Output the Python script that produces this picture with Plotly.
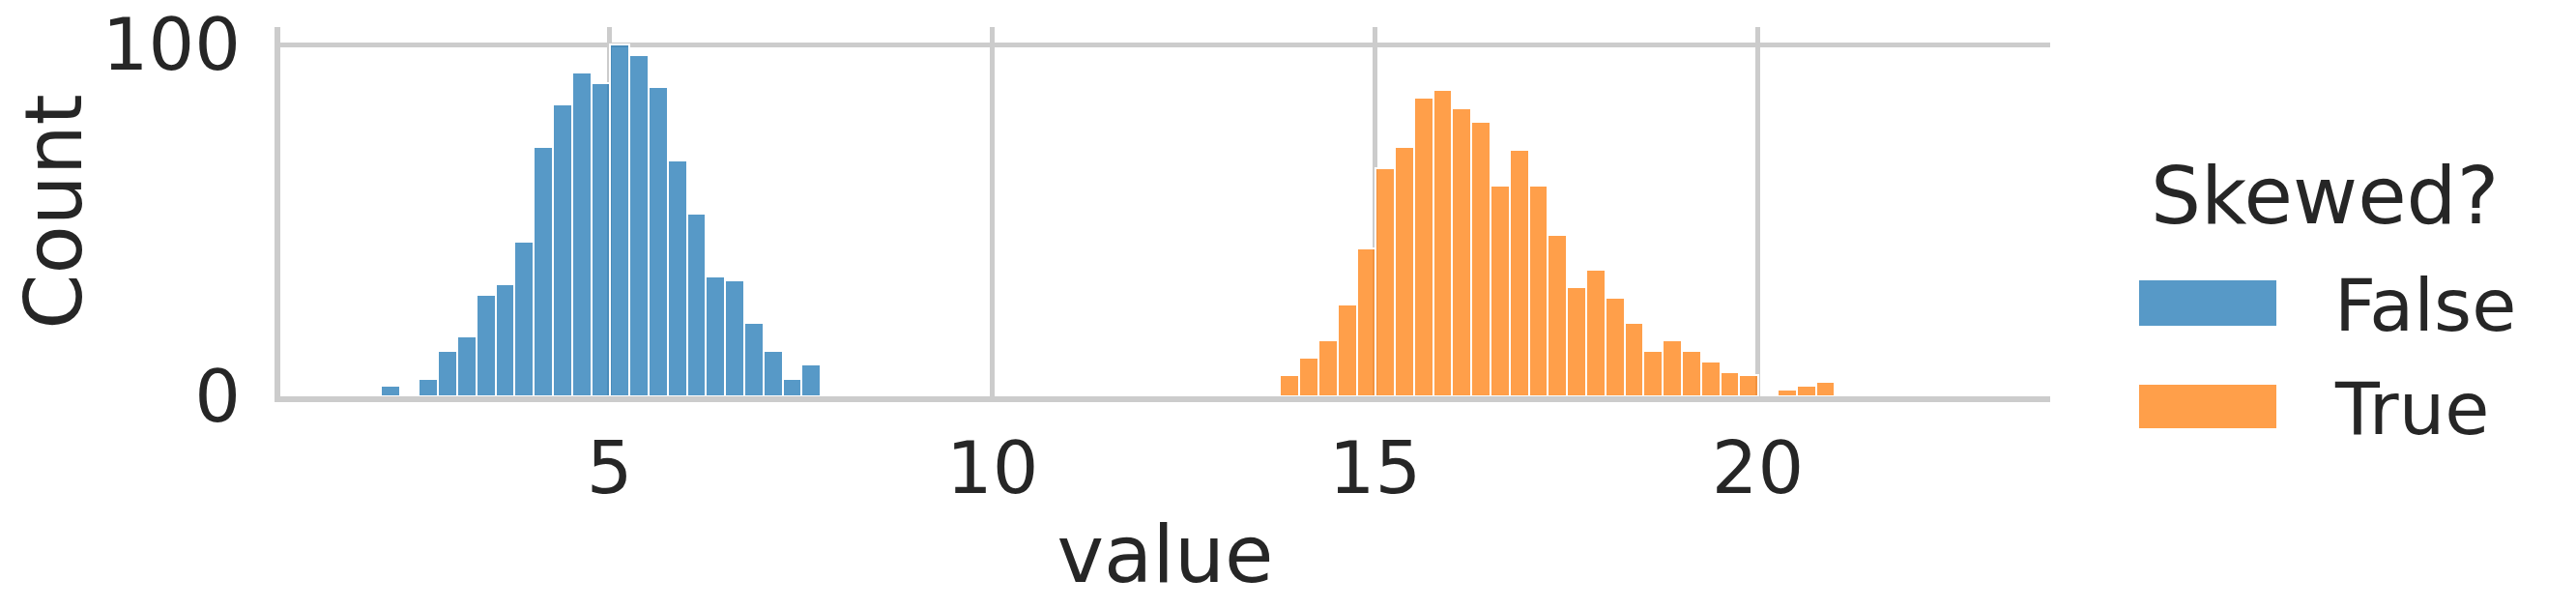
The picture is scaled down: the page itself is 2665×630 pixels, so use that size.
import plotly.graph_objects as go

# ---- data ----
BIN_WIDTH = 0.25
false_first_edge = 1.759      # left edge of first "False" bin
false_counts = [0, 3, 0, 5, 13, 17, 29, 32, 44, 71, 83, 92, 89, 100, 97, 88,
                67, 52, 34, 33, 21, 13, 5, 9]
true_first_edge = 13.759      # left edge of first "True" bin
true_counts = [6, 11, 16, 26, 42, 65, 71, 85, 87, 82, 78, 60, 70, 60, 46, 31,
               36, 28, 21, 13, 16, 13, 10, 7, 6, 0, 2, 3, 4]
hue_levels = ["False", "True"]
x_ticks = [5, 10, 15, 20]
y_ticks = [0, 100]
x_range = [0.697, 23.82]
y_range = [0, 105]

fill_colors = ["rgba(31,119,180,0.75)", "rgba(255,127,14,0.75)"]
TEXT = "#262626"
GRID = "#cccccc"
FONT = "DejaVu Sans"

def centers(first_edge, counts):
    xs, ys = [], []
    for i, c in enumerate(counts):
        if c > 0:
            xs.append(first_edge + (i + 0.5) * BIN_WIDTH)
            ys.append(c)
    return xs, ys

fig = go.Figure()
for name, edge, counts, col in zip(hue_levels, [false_first_edge, true_first_edge],
                                   [false_counts, true_counts], fill_colors):
    xs, ys = centers(edge, counts)
    fig.add_trace(go.Bar(x=xs, y=ys, width=BIN_WIDTH, name=name,
                         marker=dict(color=col, line=dict(color="white", width=2)),
                         showlegend=False))

# the page body has an 8px default margin: lay out in window pixels minus 8
OFF = 8
W, H = 2665 - 2 * OFF, 630 - 2 * OFF
PL, PT, PW, PH = 290, 28, 1831, 382          # plot area in window pixels
L, T = PL - OFF, PT - OFF
R, B = W - L - PW, H - T - PH

def px2paper_x(px):
    return (px - PL) / PW

def px2paper_y(py):
    return (PT + PH - py) / PH

# custom legend (large patches as in reference)
shapes = []
annotations = []
annotations.append(dict(text="Skewed?", x=px2paper_x(2405), y=px2paper_y(203),
                        xref="paper", yref="paper", showarrow=False,
                        xanchor="center", yanchor="middle",
                        font=dict(family=FONT, size=82, color=TEXT)))
patch_y = [(290, 337), (398, 443)]
for (y0, y1), col, name in zip(patch_y, fill_colors, hue_levels):
    shapes.append(dict(type="rect", xref="paper", yref="paper",
                       x0=px2paper_x(2213), x1=px2paper_x(2355),
                       y0=px2paper_y(y1), y1=px2paper_y(y0),
                       fillcolor=col, line=dict(width=0)))
    annotations.append(dict(text=name, x=px2paper_x(2413), y=px2paper_y((y0 + y1) / 2 + 2),
                            xref="paper", yref="paper", showarrow=False,
                            xanchor="left", yanchor="middle",
                            font=dict(family=FONT, size=75, color=TEXT)))

fig.update_layout(
    width=W, height=H,
    margin=dict(l=L, r=R, t=T, b=B, pad=0, autoexpand=False),
    paper_bgcolor="white", plot_bgcolor="white",
    barmode="overlay", bargap=0,
    font=dict(family=FONT, color=TEXT),
    shapes=shapes, annotations=annotations,
    showlegend=False,
)
fig.update_xaxes(
    range=x_range, tickvals=x_ticks, ticktext=[str(v) for v in x_ticks],
    showgrid=True, gridcolor=GRID, gridwidth=4.7,
    showline=True, linecolor=GRID, linewidth=6.25, mirror=False,
    zeroline=False, ticks="outside", ticklen=4, tickcolor="rgba(0,0,0,0)",
    tickfont=dict(family=FONT, size=75, color=TEXT), automargin=False,
    ticklabeloverflow="allow",
    title=dict(text="value", font=dict(family=FONT, size=82, color=TEXT), standoff=19),
)
fig.update_yaxes(
    range=y_range, tickvals=y_ticks, ticktext=[str(v) for v in y_ticks],
    showgrid=True, gridcolor=GRID, gridwidth=4.7,
    showline=True, linecolor=GRID, linewidth=6.25, mirror=False,
    zeroline=False, ticks="outside", ticklen=20, tickcolor="rgba(0,0,0,0)",
    tickfont=dict(family=FONT, size=75, color=TEXT), automargin=False,
    ticklabeloverflow="allow",
    title=dict(text="Count", font=dict(family=FONT, size=82, color=TEXT), standoff=25),
)

fig.write_html("out.html")
